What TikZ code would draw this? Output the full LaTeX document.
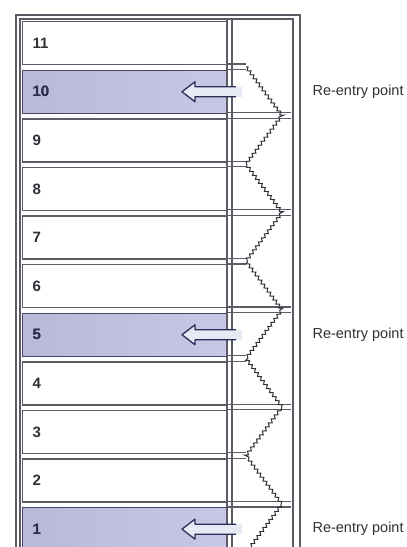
\documentclass[tikz,border=0pt]{standalone}
\usepackage{fontspec}
\setmainfont{Liberation Sans}
\usetikzlibrary{calc,decorations.pathmorphing}
\definecolor{rpink}{HTML}{303036}
\definecolor{rpline}{HTML}{5C5C66}
\definecolor{rpnavy}{HTML}{2C2E58}
\definecolor{rpmark}{HTML}{C2C3E3}
\definecolor{rpshaft}{HTML}{E6EAF5}
\tikzset{
  rp frame/.style={draw=rpline, line width=1.5pt},
  rp row/.style={draw=rpline, line width=1.3pt, fill=white, minimum width=205pt,
    minimum height=43pt, anchor=north west, inner sep=0pt},
  rp plain/.style={},
  rp mark/.style={draw=rpnavy!70!gray, left color=rpmark!95!black, right color=rpmark!92!white},
  rp num/.style={font=\fontsize{15}{17}\selectfont\bfseries, text=rpink, anchor=west},
  rp note/.style={font=\fontsize{14.5}{17}\selectfont, text=rpink, anchor=west},
  rp arrow/.style={draw=rpnavy, line width=1.3pt, line join=round},
  rp saw/.style={draw=rpink, line width=1pt, decorate,
    decoration={zigzag, amplitude=1.5pt, segment length=5pt}},
  rp edge/.style={draw=rpline, line width=1.3pt}
}

\begin{document}
\begin{tikzpicture}[x=1pt, y=-1pt]
  \useasboundingbox (0,0) rectangle (407,547);
  \clip (0,0) rectangle (407,547);

  % stack of numbered rows
  \foreach \n/\kind [count=\k from 0] in {11/rp plain, 10/rp mark, 9/rp plain, 8/rp plain,
      7/rp plain, 6/rp plain, 5/rp mark, 4/rp plain, 3/rp plain, 2/rp plain, 1/rp mark} {
    \node[rp row, \kind] (row\n) at (22,{21+48.6*\k}) {};
    \node[rp num] (num\n) at ([xshift=7pt]row\n.west) {\n};
  }
  \foreach \n in {10,5,1} {
    \node[rp num, text=rpnavy] at ([xshift=7pt]row\n.west) {\n};
  }

  % row edges carried over to the saw line
  \foreach \k in {0,...,9} {
    \pgfmathsetmacro{\ya}{64+48.6*\k}
    \pgfmathsetmacro{\yb}{69.6+48.6*\k}
    \pgfmathsetmacro{\xe}{isodd(\k) ? 291 : 246}
    \draw[rp edge] (226,\ya) -- (\xe,\ya);
    \draw[rp edge] (226,\yb) -- (\xe,\yb);
  }

  % frame and column divider
  \draw[rp frame] (16,15) rectangle (300,600);
  \draw[rp frame, line width=1.2pt] (20,19) rectangle (293,600);
  \draw[rp frame] (227,19) -- (227,600);
  \draw[rp frame] (232,19) -- (232,600);

  % saw line
  \foreach \k in {0,...,10} {
    \pgfmathsetmacro{\xz}{isodd(\k) ? 282 : 246}
    \coordinate (z\k) at (\xz,{66.8+48.6*\k});
  }
  \draw[rp saw] (z0) \foreach \k in {1,...,10} { -- (z\k) };

  % re-entry arrows
  \coordinate (notex) at (309,0);
  \foreach \n in {10,5,1} {
    \coordinate (tip\n) at ([xshift=160pt]row\n.west);
    \fill[rpshaft] (tip\n) -- ++(13,-10) -- ++(0,5) -- ++(47,0) -- ++(0,10) -- ++(-47,0)
      -- ++(0,5) -- cycle;
    \draw[rp arrow] ($(tip\n)+(54,5)$) -- ++(-41,0) -- ++(0,5) -- (tip\n)
      -- ++(13,-10) -- ++(0,5) -- ++(41,0);
    \node[rp note] (note\n) at (row\n.west -| notex) {Re-entry point};
  }
\end{tikzpicture}
\end{document}
